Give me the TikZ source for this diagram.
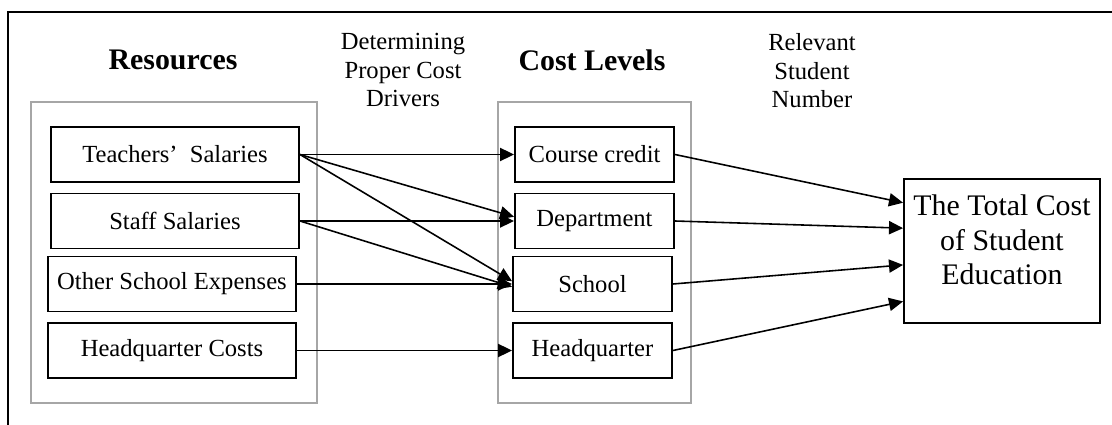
\documentclass[tikz,border=0pt]{standalone}
\usepackage{fontspec}
\setmainfont{Liberation Serif}
\usetikzlibrary{arrows.meta,positioning}

\begin{document}
\begin{tikzpicture}[x=0.02cm,y=-0.02cm,
	grp/.style={draw=gray!70,line width=0.7pt,minimum width=5.72cm,minimum height=6.02cm,inner sep=0},
	resbox/.style={draw,line width=1.1pt,minimum width=4.96cm,minimum height=1.1cm,inner sep=0,font=\fontsize{14}{16}\selectfont},
	lvlbox/.style={resbox,minimum width=3.18cm},
	ttl/.style={font=\fontsize{17}{20}\selectfont\bfseries},
	lbl/.style={align=center,font=\fontsize{14}{16.2}\selectfont},
	arr/.style={-{Triangle[length=8pt,width=7.5pt]},line width=0.9pt},
]
\useasboundingbox (0,0) rectangle (1112,425);
\draw[line width=1.7pt] (8,425) |- (1112,12);

\node[grp] (resgrp) at (174,252.5) {};
\node[grp,minimum width=3.86cm] (lvlgrp) at (594.5,252.5) {};

\node[ttl] (restitle) at (173,60) {Resources};
\node[ttl] (lvltitle) at (592,60) {Cost Levels};
\node[lbl] (drvlbl) at (403,70) {Determining\\Proper Cost\\Drivers};
\node[lbl] (numlbl) at (812,71) {Relevant\\Student\\Number};

\node[resbox] (tsal) at (175,154.5) {Teachers’\enspace Salaries};
\node[resbox] (ssal) at (175,221) {Staff Salaries};
\node[resbox] (oexp) at (172,284) {Other School Expenses};
\node[resbox] (hqc) at (172,350.5) {Headquarter Costs};

\node[lvlbox] (ccred) at (594.5,154.5) {Course credit};
\node[lvlbox] (dept) at (594.5,221) {Department};
\node[lvlbox] (schl) at (592.5,284) {School};
\node[lvlbox] (hq) at (592.5,350.5) {Headquarter};

\node[draw,line width=1.1pt,minimum width=3.92cm,minimum height=2.88cm] (total) at (1002,251) {};
\node[align=center,font=\fontsize{17}{19.5}\selectfont] (totaltxt) at ([yshift=0.22cm]total.center) {The Total Cost\\of Student\\Education};

\draw[arr] (tsal.east) -- (ccred.west);
\draw[arr] (tsal.east) -- (dept.177);
\draw[arr] (tsal.east) -- (schl.178);
\draw[arr] (ssal.east) -- (dept.west);
\draw[arr] (ssal.east) -- (schl.182);
\draw[arr] (oexp.east) -- (schl.west);
\draw[arr] (hqc.east) -- (hq.west);

\draw[arr] (ccred.east) -- (total.154);
\draw[arr] (dept.east) -- (total.167);
\draw[arr] (schl.east) -- (total.188);
\draw[arr] (hq.east) -- (total.207);
\end{tikzpicture}
\end{document}
